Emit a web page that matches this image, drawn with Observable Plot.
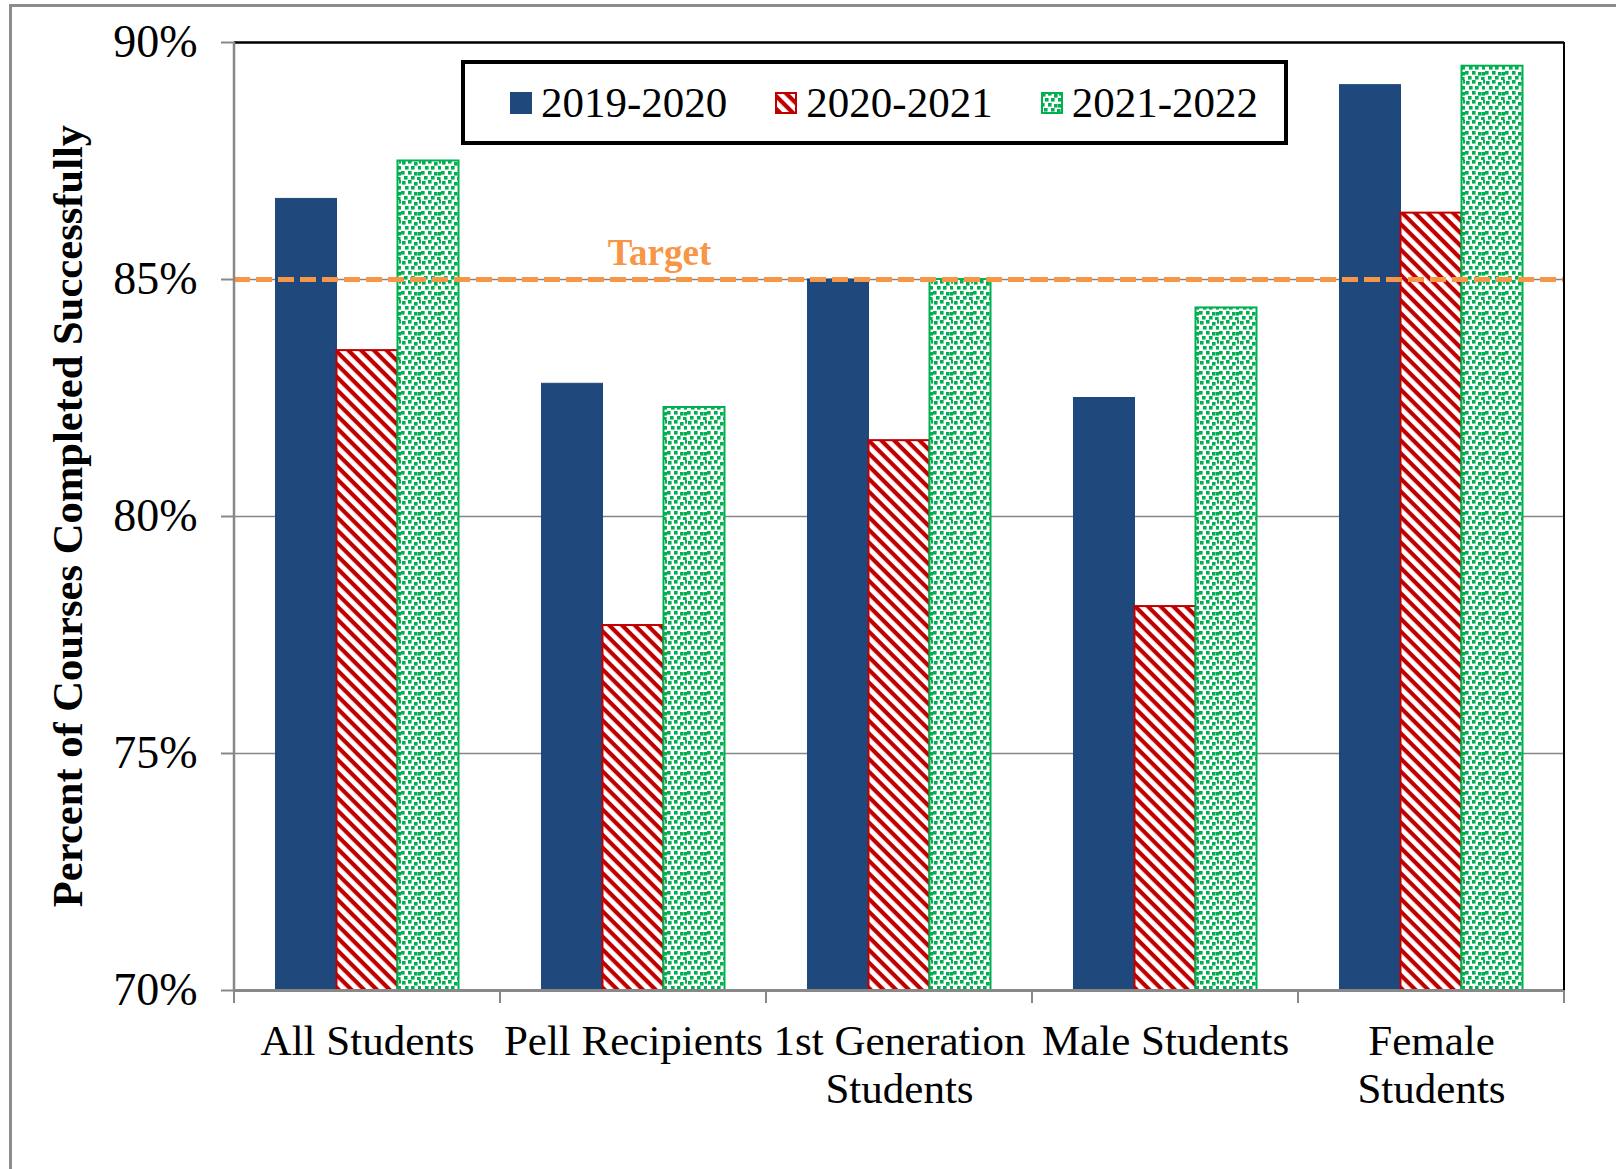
<!DOCTYPE html>
<html><head><meta charset="utf-8">
<script src="https://cdn.jsdelivr.net/npm/d3@7"></script>
<script src="https://cdn.jsdelivr.net/npm/@observablehq/plot@0.6"></script>
<style>
body{margin:0;background:#fff;}
#wrap{position:relative;width:1616px;height:1169px;overflow:hidden;background:#fff;font-family:'Liberation Serif','Times New Roman',serif;}
#frame{position:absolute;left:9px;top:4px;right:-10px;bottom:-10px;border-left:3px solid #8c8c8c;border-top:3px solid #8c8c8c;}
#ylabel{position:absolute;left:67px;top:516px;transform:translate(-50%,-50%) rotate(-90deg);font-family:'Liberation Serif','Times New Roman',serif;font-weight:bold;font-size:42.6px;white-space:nowrap;color:#000;}
#legend{position:absolute;left:461px;top:60px;width:827px;height:85px;box-sizing:border-box;border:4px solid #000;background:#fff;display:flex;align-items:center;padding-left:45px;white-space:nowrap;}
.item{display:flex;align-items:center;flex-shrink:0;margin-right:48px;font-family:'Liberation Serif','Times New Roman',serif;font-size:43px;line-height:1;white-space:nowrap;}
.item svg{margin-right:9px;flex-shrink:0;}
</style></head>
<body><div id="wrap"></div>
<script>
// ---- data ----
const categories = ["All Students", "Pell Recipients", "1st Generation Students", "Male Students", "Female Students"];
const categoryLabels = ["All Students", "Pell Recipients", "1st Generation\nStudents", "Male Students", "Female\nStudents"];
const series = ["2019-2020", "2020-2021", "2021-2022"];
const values2019_2020 = [86.7, 82.8, 85.0, 82.5, 89.1];
const values2020_2021 = [83.5, 77.7, 81.6, 78.1, 86.4];
const values2021_2022 = [87.5, 82.3, 85.0, 84.4, 89.5];
const yTicks = [70, 75, 80, 85, 90];
const targetValue = 85;
const targetLabel = "Target";
const yLabel = "Percent of Courses Completed Successfully";

// ---- styles ----
const seriesFill = ["#1F497D", "url(#redStripes)", "url(#greenDots)"];
const seriesStroke = ["#1F497D", "#C00000", "#00B050"];

const valuesBySeries = [values2019_2020, values2020_2021, values2021_2022];
const data = categories.flatMap((c, i) => series.map((s, k) => ({category: c, series: s, value: valuesBySeries[k][i]})));
const labelOf = new Map(categories.map((c, i) => [c, categoryLabels[i]]));
const yDomain = [yTicks[0], yTicks[yTicks.length - 1]];
const gridTicks = yTicks.filter(t => t > yDomain[0] && t < yDomain[1]);
const targetData = [{category: categories[1], value: targetValue, label: targetLabel}];

const W = 1616, H = 1169;
const chart = Plot.plot({
  width: W, height: H,
  marginLeft: 233, marginRight: 51, marginTop: 42, marginBottom: 179,
  style: {fontFamily: "'Liberation Serif','Times New Roman',serif", background: "transparent", color: "black"},
  fx: {domain: categories, paddingInner: 0, paddingOuter: 0, label: null},
  x: {domain: series, paddingInner: 0, paddingOuter: 0.68, axis: null, round: false},
  y: {domain: yDomain, label: null},
  marks: [
    Plot.gridY(gridTicks, {stroke: "#868686", strokeOpacity: 1, strokeWidth: 1.5}),
    ...series.map((s, k) => Plot.barY(data.filter(d => d.series === s), {
      fx: "category", x: "series", y: "value",
      fill: seriesFill[k], stroke: seriesStroke[k], strokeWidth: k === 0 ? 1 : 2, clip: true
    })),
    Plot.ruleY([yDomain[0]], {stroke: "#888", strokeWidth: 3}),
    Plot.ruleY([yDomain[1]], {stroke: "#000", strokeWidth: 2.5}),
    Plot.ruleY([targetValue], {stroke: "#F79646", strokeWidth: 5, strokeDasharray: "16,6"}),
    Plot.text(targetData, {fx: "category", y: "value", text: "label", dx: 26, dy: -26,
      fill: "#F79646", fontWeight: "bold", fontSize: 37}),
    Plot.axisY({ticks: yTicks, tickFormat: d => `${d}%`, tickSize: 13, tickPadding: 24,
      fontSize: 46, stroke: "#888", strokeWidth: 2, fill: "black", label: null}),
    Plot.axisFx({anchor: "bottom", tickSize: 0, tickPadding: 30, fontSize: 43, lineHeight: 1.12,
      tickFormat: d => labelOf.get(d), fill: "black", label: null})
  ]
});

const wrap = document.getElementById("wrap");
wrap.appendChild(chart);

// patterns + axis decorations derived from the chart's scales
const svg = d3.select(chart);
const defs = svg.insert("defs", ":first-child");
const red = defs.append("pattern").attr("id", "redStripes").attr("patternUnits", "userSpaceOnUse")
  .attr("width", 9).attr("height", 9).attr("patternTransform", "rotate(45)");
red.append("rect").attr("width", 9).attr("height", 9).attr("fill", "#fff");
red.append("rect").attr("width", 9).attr("height", 4.2).attr("fill", "#C00000");
const green = defs.append("pattern").attr("id", "greenDots").attr("patternUnits", "userSpaceOnUse")
  .attr("width", 20).attr("height", 20);
green.append("rect").attr("width", 20).attr("height", 20).attr("fill", "#fff");
[[1,1],[7,0],[13,2],[17,6],[4,6],[10,6],[0,11],[7,11],[13,12],[3,16],[10,16],[16,17],[18,0],[17,12]].forEach(([px, py]) =>
  green.append("rect").attr("x", px).attr("y", py).attr("width", 3.6).attr("height", 3.6).attr("fill", "#00B050"));

const yS = chart.scale("y"), fxS = chart.scale("fx");
const yTop = yS.apply(yDomain[1]), yBot = yS.apply(yDomain[0]);
const bounds = categories.map(c => fxS.apply(c));
bounds.push(fxS.apply(categories[categories.length - 1]) + fxS.bandwidth);
const deco = svg.append("g");
deco.append("line").attr("x1", bounds[0]).attr("x2", bounds[0]).attr("y1", yTop).attr("y2", yBot + 1.5)
  .attr("stroke", "#888").attr("stroke-width", 2.5);
deco.append("line").attr("x1", bounds[bounds.length - 1]).attr("x2", bounds[bounds.length - 1]).attr("y1", yTop).attr("y2", yBot)
  .attr("stroke", "#000").attr("stroke-width", 2);
bounds.forEach(b => deco.append("line").attr("x1", b).attr("x2", b).attr("y1", yBot).attr("y2", yBot + 13)
  .attr("stroke", "#888").attr("stroke-width", 2));

// overlay elements: outer frame, y label, legend
const frame = document.createElement("div"); frame.id = "frame"; wrap.appendChild(frame);
const yl = document.createElement("div"); yl.id = "ylabel"; yl.textContent = yLabel; wrap.appendChild(yl);
const legend = d3.select(wrap).append("div").attr("id", "legend");
series.forEach((s, k) => {
  const item = legend.append("div").attr("class", "item");
  const sw = item.append("svg").attr("width", 22).attr("height", 22);
  sw.append("rect").attr("x", 1).attr("y", 1).attr("width", 20).attr("height", 20)
    .attr("fill", seriesFill[k]).attr("stroke", seriesStroke[k]).attr("stroke-width", 2);
  item.append("span").text(s);
});
</script>
</body></html>
